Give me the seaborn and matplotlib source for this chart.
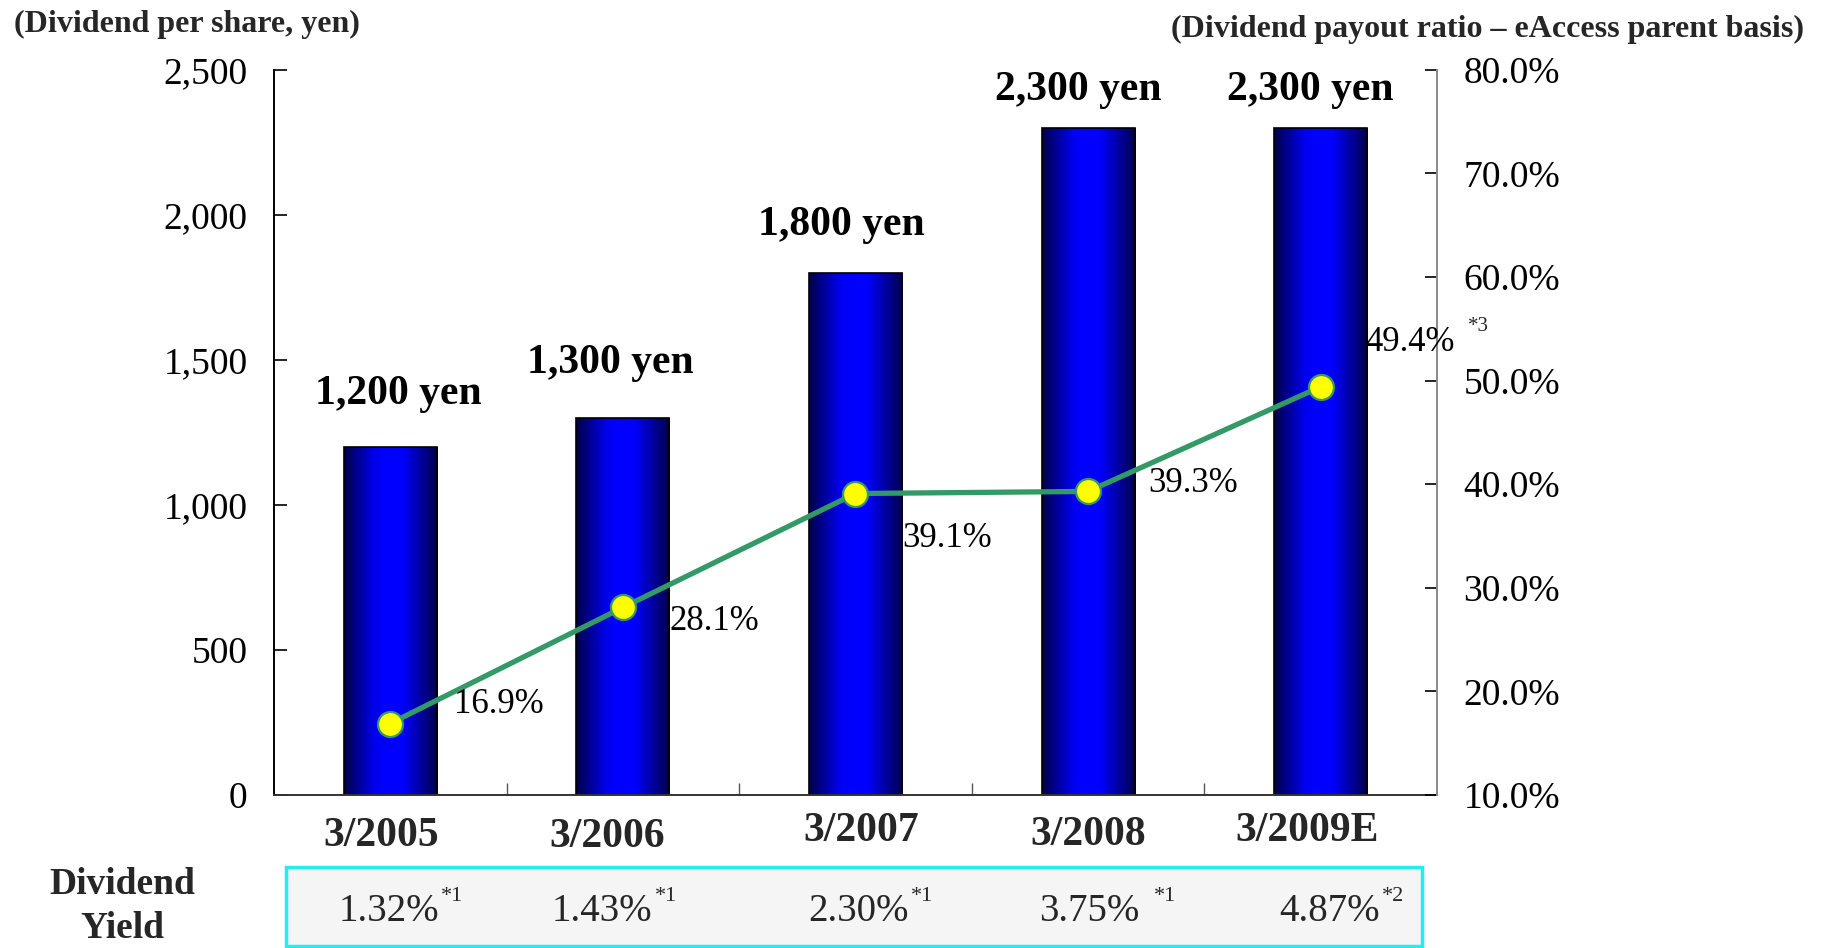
import numpy as np
import pandas as pd
import matplotlib
matplotlib.use("Agg")
import matplotlib.pyplot as plt
import seaborn as sns
from matplotlib.colors import LinearSegmentedColormap
from matplotlib.patches import Rectangle

# ---------------- data ----------------
categories = ["3/2005", "3/2006", "3/2007", "3/2008", "3/2009E"]
dividend_yen = [1200, 1300, 1800, 2300, 2300]
dividend_labels = ["1,200 yen", "1,300 yen", "1,800 yen", "2,300 yen", "2,300 yen"]
payout_ratio = [16.9, 28.1, 39.1, 39.3, 49.4]
payout_labels = ["16.9%", "28.1%", "39.1%", "39.3%", "49.4%"]
payout_notes = ["", "", "", "", "*3"]
yield_labels = ["1.32%", "1.43%", "2.30%", "3.75%", "4.87%"]
yield_notes = ["*1", "*1", "*1", "*1", "*2"]
left_ticks = [0, 500, 1000, 1500, 2000, 2500]
right_ticks = [10, 20, 30, 40, 50, 60, 70, 80]

# ---------------- style ----------------
sns.set_style("white")
plt.rcParams["font.family"] = ["Liberation Serif", "DejaVu Serif"]
plt.rcParams["axes.linewidth"] = 1.4

fig = plt.figure(figsize=(18.25, 9.48), dpi=100)
ax = fig.add_axes([0.1501, 0.1614, 0.6373, 0.7650])

df = pd.DataFrame({"period": categories, "dividend": dividend_yen})
sns.barplot(data=df, x="period", y="dividend", ax=ax, width=0.4,
            color="#0000ff", saturation=1, edgecolor="black", linewidth=1.2)

# horizontal gradient inside each bar
cmap = LinearSegmentedColormap.from_list(
    "bar", [(0.0, "#00004a"), (0.33, "#0000f0"), (0.45, "#0000ff"),
            (0.62, "#0000ff"), (1.0, "#00004a")])
grad = np.linspace(0, 1, 256).reshape(1, -1)
for patch in list(ax.patches):
    x0, y0 = patch.get_x(), patch.get_y()
    w, h = patch.get_width(), patch.get_height()
    im = ax.imshow(grad, extent=(x0, x0 + w, y0, y0 + h), origin="lower",
                   aspect="auto", cmap=cmap, zorder=1.5, interpolation="bilinear")
    im.set_clip_path(patch)
    patch.set_facecolor("none")
    patch.set_zorder(2)

ax.set_xlim(-0.5, 4.5)
ax.set_ylim(0, 2500)
ax.set_yticks(left_ticks)
ax.set_yticklabels([f"{t:,}" for t in left_ticks])
ax.set_xticks(range(len(categories)))
ax.set_xticklabels([])
ax.set_xticks([0.5, 1.5, 2.5, 3.5], minor=True)
ax.set_xlabel("")
ax.set_ylabel("")
ax.tick_params(axis="y", direction="in", length=9, width=1.2, pad=19,
               labelsize=27, left=True, colors="black")
ax.tick_params(axis="x", which="major", length=0)
ax.tick_params(axis="x", which="minor", direction="in", length=9, width=1.0,
               color="#555555", bottom=True)
ax.spines["top"].set_visible(False)
ax.spines["right"].set_visible(False)
ax.spines["left"].set_color("black")
ax.spines["bottom"].set_color("#333333")

# bar value labels
bar_lbl_dx = [8, -13, -14, -10, -10]
bar_lbl_dy = [53, 55, 48, 38, 38]
for i, (v, lbl) in enumerate(zip(dividend_yen, dividend_labels)):
    ax.annotate(lbl, xy=(i, v), xytext=(bar_lbl_dx[i], bar_lbl_dy[i]),
                textcoords="offset pixels", ha="center", va="center",
                fontsize=30, fontweight="bold", color="black", zorder=5)

# category labels
cat_dx = [-9, -16, 6, 0, -14]
cat_dy = [-41, -42, -36, -40, -36]
for i, c in enumerate(categories):
    ax.annotate(c, xy=(i, 0), xycoords=ax.get_xaxis_transform(),
                xytext=(cat_dx[i], cat_dy[i]), textcoords="offset pixels",
                ha="center", va="center", fontsize=30, fontweight="bold",
                annotation_clip=False)

# ---------------- payout ratio line ----------------
ax2 = ax.twinx()
sns.lineplot(x=np.arange(len(categories)), y=payout_ratio, ax=ax2,
             color="#339966", linewidth=3.8, marker="o", markersize=18,
             markerfacecolor="#ffff00", markeredgecolor="#339966",
             markeredgewidth=1.6, zorder=4)
ax2.set_ylim(10, 80)
ax2.set_xlim(-0.5, 4.5)
ax2.set_yticks(right_ticks)
ax2.set_yticklabels([f"{t:.1f}%" for t in right_ticks])
ax2.set_ylabel("")
ax2.tick_params(axis="y", direction="in", length=9, width=1.2, pad=19,
                labelsize=27, right=True, colors="black")
for s in ["top", "left", "bottom"]:
    ax2.spines[s].set_visible(False)
ax2.spines["right"].set_color("#888888")

pay_dx = [64, 47, 47, 60, 45]
pay_dy = [19, -14, -45, 8, 44]
for i, (p, lbl, note) in enumerate(zip(payout_ratio, payout_labels, payout_notes)):
    t = ax2.annotate(lbl, xy=(i, p), xytext=(pay_dx[i], pay_dy[i]),
                     textcoords="offset pixels", ha="left", va="center",
                     fontsize=25, color="black", zorder=6, annotation_clip=False)
    if note:
        ax2.annotate(note, xy=(1, 0.5), xycoords=t, xytext=(13, 16),
                     textcoords="offset pixels", ha="left", va="center",
                     fontsize=15, annotation_clip=False)

# ---------------- dividend yield table ----------------
W, H = 1825, 948
box = Rectangle((286 / W, 1 - 946 / H), (1422 - 286) / W, (946 - 867) / H,
                transform=fig.transFigure, facecolor="#f5f5f5",
                edgecolor="#22eeee", linewidth=2.5, zorder=0)
fig.add_artist(box)

yld_dx = [-52, -71, -47, -49, -41]
yld_gap = [2, 2, 2, 14, 2]
for i, (lbl, note) in enumerate(zip(yield_labels, yield_notes)):
    t = ax.annotate(lbl, xy=(i, 0), xycoords=ax.get_xaxis_transform(),
                    xytext=(yld_dx[i], -117), textcoords="offset pixels",
                    ha="left", va="center", fontsize=28, annotation_clip=False)
    ax.annotate(note, xy=(1, 0.5), xycoords=t, xytext=(yld_gap[i], 15),
                textcoords="offset pixels", ha="left", va="center",
                fontsize=16, annotation_clip=False)

fig.text(122 / W, 1 - 885 / H, "Dividend", ha="center", va="center",
         fontsize=27, fontweight="bold")
fig.text(122 / W, 1 - 928 / H, "Yield", ha="center", va="center",
         fontsize=27, fontweight="bold")

# ---------------- headers ----------------
fig.text(14 / W, 1 - 24 / H, "(Dividend per share, yen)", ha="left",
         va="center", fontsize=23, fontweight="bold")
fig.text(1804 / W, 1 - 29 / H, "(Dividend payout ratio \u2013 eAccess parent basis)",
         ha="right", va="center", fontsize=23, fontweight="bold")

fig.savefig("out.png", dpi=100, facecolor="white")
